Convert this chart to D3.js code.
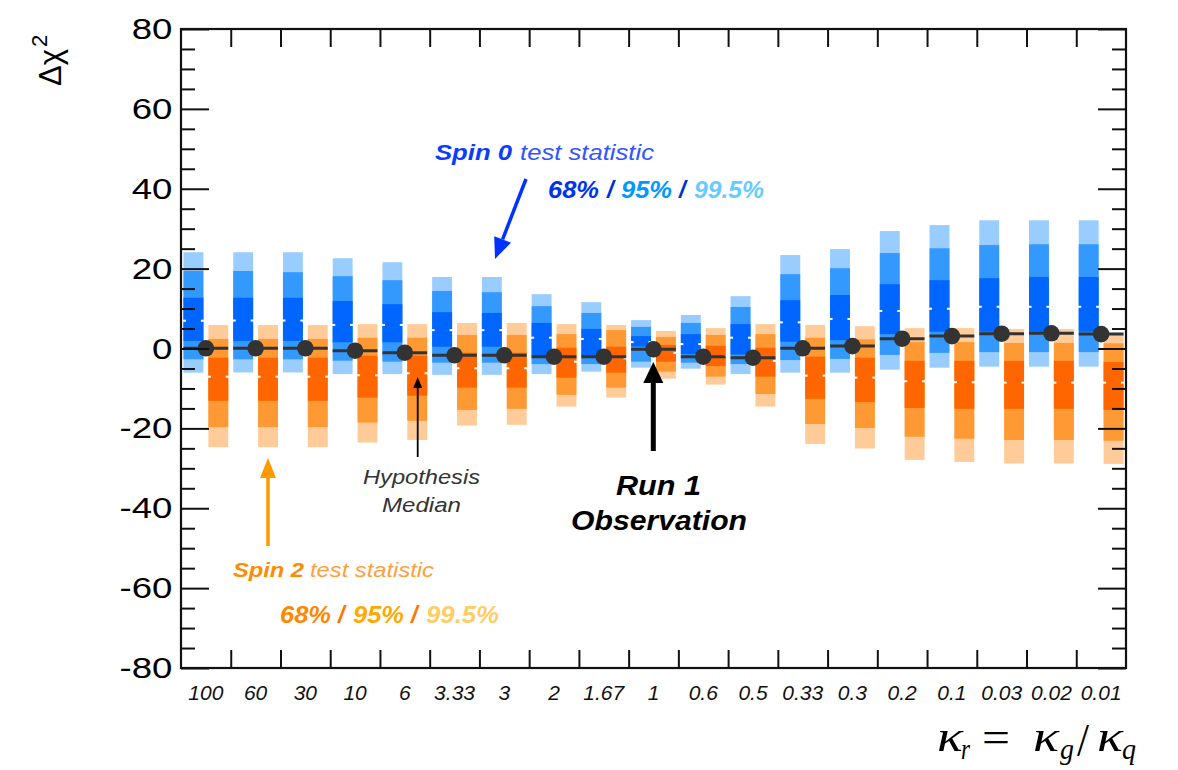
<!DOCTYPE html>
<html>
<head>
<meta charset="utf-8">
<script src="https://cdn.jsdelivr.net/npm/d3@7"></script>
<style>
  html, body { margin: 0; padding: 0; background: #fff; }
  svg { display: block; }
</style>
</head>
<body>
<svg id="chart" width="1178" height="770"></svg>
<script>
// kappa_r hypotheses along the x axis
const categories = ["100","60","30","10","6","3.33","3","2","1.67","1","0.6","0.5","0.33","0.3","0.2","0.1","0.03","0.02","0.01"];

// Spin 0 test-statistic bands (upper / lower edges) and median
const spin0Hi995 = [24.1,24.1,24.1,22.6,21.6,17.9,17.9,13.6,11.6,7.1,8.4,13.1,23.4,24.9,29.4,30.9,32.1,32.1,32.1];
const spin0Hi95  = [19.4,19.4,19.1,18.1,17.1,14.4,14.1,10.6,8.9,5.4,6.4,10.4,18.6,20.1,23.9,25.1,25.9,26.1,26.1];
const spin0Hi68  = [12.7,12.7,12.7,11.9,11.1,9.1,8.9,6.4,4.9,3.1,3.6,6.1,12.1,13.4,16.1,17.1,17.6,17.9,17.9];
const spin0Med   = [6.95,7.0,7.0,5.9,5.9,4.6,4.6,2.7,2.4,1.6,1.1,2.7,6.55,7.4,9.4,9.95,10.45,10.45,10.45];
const spin0Lo68  = [1.9,1.9,1.9,1.55,1.55,0.45,0.45,-2.0,-1.9,0.5,-1.4,-1.5,1.7,2.1,3.6,4.2,4.2,4.2,4.2];
const spin0Lo95  = [-2.7,-2.7,-2.7,-3.05,-3.3,-3.55,-3.55,-3.9,-3.9,-3.3,-3.55,-3.9,-2.9,-2.6,-1.6,-1.1,-0.9,-0.9,-0.9];
const spin0Lo995 = [-6.05,-6.0,-6.0,-6.4,-6.4,-6.6,-6.6,-6.4,-5.8,-4.8,-5.05,-6.4,-6.05,-6.05,-5.3,-4.8,-4.55,-4.55,-4.55];

// Spin 2 test-statistic bands (upper / lower edges) and median
const spin2Hi995 = [5.9,5.9,5.9,6.1,6.1,6.4,6.4,6.1,5.9,4.4,5.1,6.1,5.9,5.6,5.1,5.1,4.9,4.9,3.8];
const spin2Hi95  = [2.4,2.4,2.4,2.7,2.7,3.4,3.4,3.6,4.6,2.9,3.4,3.6,2.7,2.3,1.7,1.6,1.4,1.4,1.3];
const spin2Hi68  = [-2.3,-2.3,-2.3,-1.8,-1.8,-1.05,-1.05,0.2,0.45,0.9,0.7,0.2,-2.05,-2.3,-3.1,-3.1,-3.1,-3.1,-3.4];
const spin2Med   = [-7.05,-7.05,-7.05,-6.7,-6.2,-4.95,-4.95,-3.3,-2.45,-1.1,-1.9,-3.1,-6.8,-7.3,-8.2,-8.45,-8.55,-8.55,-8.55];
const spin2Lo68  = [-13.1,-13.1,-13.1,-12.3,-11.8,-9.8,-9.8,-7.3,-6.05,-3.3,-4.4,-7.05,-12.6,-13.4,-14.9,-15.1,-15.1,-15.1,-15.4];
const spin2Lo95  = [-19.7,-19.7,-19.7,-18.55,-18.1,-15.4,-15.1,-11.6,-9.8,-5.8,-7.05,-11.4,-18.9,-19.9,-22.1,-22.6,-22.9,-22.9,-23.1];
const spin2Lo995 = [-24.7,-24.7,-24.7,-23.55,-22.9,-19.3,-19.1,-14.55,-12.3,-7.55,-9.05,-14.55,-23.9,-25.05,-27.9,-28.4,-28.8,-28.8,-28.9];

// Run 1 observed values
const observed = [0.05,0.05,0.05,-0.55,-1.05,-1.7,-1.7,-2.05,-2.05,-0.2,-2.05,-2.3,0.05,0.6,2.45,3.1,3.7,3.8,3.6];

// y axis ticks
const yMajor = [-80,-60,-40,-20,0,20,40,60,80];

const svg = d3.select("#chart");
const L = 181, R = 1126, T = 29, B = 668;
const sans = "'Liberation Sans', Arial, Helvetica, sans-serif";

const x = d3.scaleBand().domain(categories).range([L, R]).padding(0);
const xEdge = d3.scaleLinear().domain([0, categories.length]).range([L, R]);
const y = d3.scaleLinear().domain([-80, 80]).range([B, T]);
const bw = x.bandwidth();

svg.append("rect").attr("width", 1178).attr("height", 770).attr("fill", "#fff");

const blueCol = ["#99ccff", "#3399ff", "#0066ff"];
const orangeCol = ["#ffcc99", "#ff9933", "#ff6600"];

const spin0Bands = [[spin0Hi995, spin0Lo995], [spin0Hi95, spin0Lo95], [spin0Hi68, spin0Lo68]];
const spin2Bands = [[spin2Hi995, spin2Lo995], [spin2Hi95, spin2Lo95], [spin2Hi68, spin2Lo68]];

function drawBands(bands, colors, offset, med, cls) {
  const g = svg.append("g").attr("class", cls);
  const bx = c => x(c) + offset * bw;
  const w = 0.4 * bw;
  bands.forEach(([hi, lo], k) => {
    g.selectAll(null).data(categories).join("rect")
      .attr("x", c => bx(c))
      .attr("width", w)
      .attr("y", (c, i) => y(hi[i]))
      .attr("height", (c, i) => y(lo[i]) - y(hi[i]))
      .attr("fill", colors[k]);
  });
  // white median notches on both edges of each bar
  [[-1, 3.5], [w - 2.5, 3.5]].forEach(([dx, nw]) => {
    g.selectAll(null).data(categories).join("rect")
      .attr("x", c => bx(c) + dx)
      .attr("width", nw)
      .attr("y", (c, i) => y(med[i]) - 1)
      .attr("height", 2)
      .attr("fill", "#fff");
  });
}
drawBands(spin0Bands, blueCol, 0.05, spin0Med, "spin0");
drawBands(spin2Bands, orangeCol, 0.55, spin2Med, "spin2");

// observation segments and markers
svg.append("g").selectAll("line").data(categories).join("line")
  .attr("x1", c => x(c) + 0.05 * bw)
  .attr("x2", c => x(c) + 0.95 * bw)
  .attr("y1", (c, i) => y(observed[i]))
  .attr("y2", (c, i) => y(observed[i]))
  .attr("stroke", "#333").attr("stroke-width", 3);
svg.append("g").selectAll("circle").data(categories).join("circle")
  .attr("cx", c => x(c) + bw / 2)
  .attr("cy", (c, i) => y(observed[i]))
  .attr("r", 8.3)
  .attr("fill", "#333");

// axes
function styleTicks(g) {
  g.select(".domain").remove();
  g.selectAll(".tick line").attr("stroke", "#111").attr("stroke-width", 2);
}
const minor = d3.range(-80, 81, 5).filter(v => v % 20 !== 0);

svg.append("g").attr("transform", `translate(${L},0)`)
  .call(d3.axisLeft(y).tickValues(yMajor).tickSizeInner(-28).tickSizeOuter(0).tickPadding(7).tickFormat(d => String(d)))
  .call(styleTicks)
  .call(g => g.selectAll("text")
    .attr("font-family", sans).attr("font-size", 30).attr("fill", "#000")
    .attr("transform", "scale(1.22,1)"));
svg.append("g").attr("transform", `translate(${L},0)`)
  .call(d3.axisLeft(y).tickValues(minor).tickSizeInner(-14).tickSizeOuter(0).tickFormat(""))
  .call(styleTicks);
svg.append("g").attr("transform", `translate(${R},0)`)
  .call(d3.axisRight(y).tickValues(yMajor).tickSizeInner(-28).tickSizeOuter(0).tickFormat(""))
  .call(styleTicks);
svg.append("g").attr("transform", `translate(${R},0)`)
  .call(d3.axisRight(y).tickValues(minor).tickSizeInner(-14).tickSizeOuter(0).tickFormat(""))
  .call(styleTicks);

const inner = d3.range(1, categories.length);
svg.append("g").attr("transform", `translate(0,${B})`)
  .call(d3.axisBottom(xEdge).tickValues(inner).tickSizeInner(-18).tickSizeOuter(0).tickFormat(""))
  .call(styleTicks);
svg.append("g").attr("transform", `translate(0,${T})`)
  .call(d3.axisTop(xEdge).tickValues(inner).tickSizeInner(-18).tickSizeOuter(0).tickFormat(""))
  .call(styleTicks);
svg.append("g").attr("transform", `translate(0,${B})`)
  .call(d3.axisBottom(x).tickSize(0).tickPadding(17))
  .call(g => g.select(".domain").remove())
  .call(g => g.selectAll("text")
    .attr("font-family", sans).attr("font-size", 21).attr("font-style", "italic").attr("fill", "#111"));

svg.append("rect").attr("x", L).attr("y", T).attr("width", R - L).attr("height", B - T)
  .attr("fill", "none").attr("stroke", "#111").attr("stroke-width", 2.2);

// y title
const yt = svg.append("text").attr("transform", "translate(61,86) rotate(-90)")
  .attr("font-family", sans).attr("font-size", 31).attr("fill", "#000");
yt.append("tspan").text("Δχ");
yt.append("tspan").attr("font-size", 22).attr("dy", -14).attr("dx", 2).text("2");

// x title: kappa_r = kappa_g / kappa_q
const serif = "'Liberation Serif', 'Times New Roman', serif";
const xt = [
  {t: "κ", x: 937, y: 751, s: 44, w: 26, it: true},
  {t: "r", x: 961, y: 759, s: 29, w: 9, it: true},
  {t: "=", x: 982, y: 752, s: 44, w: 28, it: false},
  {t: "κ", x: 1033, y: 751, s: 44, w: 26, it: true},
  {t: "g", x: 1060, y: 759, s: 29, w: 14, it: true},
  {t: "/", x: 1077, y: 756, s: 46, w: 12, it: false},
  {t: "κ", x: 1097, y: 751, s: 44, w: 26, it: true},
  {t: "q", x: 1122, y: 759, s: 29, w: 14, it: true}
];
svg.append("g").selectAll("text").data(xt).join("text")
  .attr("x", d => d.x).attr("y", d => d.y)
  .attr("font-family", serif).attr("font-size", d => d.s)
  .attr("font-style", d => d.it ? "italic" : "normal")
  .attr("textLength", d => d.w).attr("lengthAdjust", "spacingAndGlyphs")
  .attr("fill", "#000").text(d => d.t);

// annotation text pieces
function label(t, x0, y0, w, size, fill, bold) {
  const el = svg.append("text").attr("x", x0).attr("y", y0)
    .attr("font-family", sans).attr("font-size", size)
    .attr("font-style", "italic").attr("font-weight", bold ? "bold" : "normal")
    .attr("fill", fill).text(t);
  if (w) el.attr("textLength", w).attr("lengthAdjust", "spacingAndGlyphs");
}
label("Spin 0", 435, 160, 77, 22, "#0a3cff", true);
label("test statistic", 520, 160, 134, 22, "#3355ff", false);
label("68%", 548, 198, 51, 24, "#0033ee", true);
label("/", 607, 198, 0, 24, "#0033cc", true);
label("95%", 621, 198, 51, 24, "#0099ff", true);
label("/", 679, 198, 0, 24, "#0033cc", true);
label("99.5%", 694, 198, 70, 24, "#66ccff", true);

label("Spin 2", 233, 577, 71, 21, "#ff8c00", true);
label("test statistic", 310, 577, 124, 21, "#ffa040", false);
label("68%", 280, 623, 51, 24, "#ff8800", true);
label("/", 338, 623, 0, 24, "#ff7700", true);
label("95%", 353, 623, 51, 24, "#ffaa00", true);
label("/", 411, 623, 0, 24, "#ff7700", true);
label("99.5%", 426, 623, 73, 24, "#ffcc66", true);

label("Hypothesis", 363, 484, 117, 20, "#333", false);
label("Median", 382, 512, 79, 20, "#333", false);
label("Run 1", 616, 495, 85, 27, "#000", true);
label("Observation", 571, 530, 176, 27, "#000", true);

// arrows
function arrow(x1, y1, x2, y2, col, sw, hl, hw) {
  const a = Math.atan2(y2 - y1, x2 - x1);
  const bx = x2 - hl * Math.cos(a), by = y2 - hl * Math.sin(a);
  svg.append("line").attr("x1", x1).attr("y1", y1).attr("x2", bx).attr("y2", by)
    .attr("stroke", col).attr("stroke-width", sw);
  const px = -Math.sin(a) * hw, py = Math.cos(a) * hw;
  svg.append("path")
    .attr("d", `M${x2},${y2}L${bx + px},${by + py}L${bx - px},${by - py}Z`)
    .attr("fill", col);
}
arrow(526, 179, 495, 259, "#0033ff", 3.5, 21, 9);
arrow(268, 546, 268, 458, "#ff9900", 3.5, 20, 8);
arrow(417.7, 457, 417.7, 377, "#000", 1.8, 11, 4.5);
arrow(653.3, 451, 653.3, 362, "#000", 5, 21, 10);
</script>
</body>
</html>
